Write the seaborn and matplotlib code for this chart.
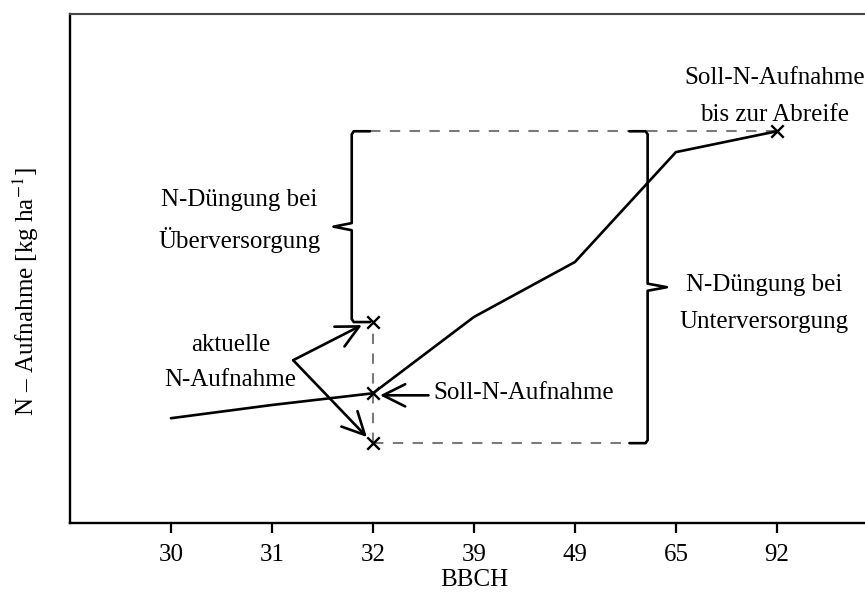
import numpy as np
import pandas as pd
import seaborn as sns
import matplotlib.pyplot as plt

BBCH = ['30', '31', '32', '39', '49', '65', '92']
SOLL_N = [20.6, 23.2, 25.5, 40.5, 51.3, 72.9, 77.0]
AKTUELL_HOCH = 39.5
AKTUELL_NIEDRIG = 15.7
MESS_STADIUM = '32'

DASH_COLOR = '#7a7a7a'
FS = 18


def draw_brace(ax, x, y_top, y_bottom, hook, cusp):
    # curly bracket made of straight pieces: hooks at both ends, cusp in the middle
    mid = (y_top + y_bottom) / 2
    s = np.sign(hook) * 0.02
    xs = [x + hook, x + s, x, x, x + cusp, x, x, x + s, x + hook]
    ys = [y_top, y_top, y_top - 0.6, mid + 0.7, mid, mid - 0.7, y_bottom + 0.6, y_bottom, y_bottom]
    ax.plot(xs, ys, color='black', lw=1.9, solid_joinstyle='round')


def draw_chart():
    df = pd.DataFrame({'pos': np.arange(len(BBCH)), 'bbch': BBCH, 'soll': SOLL_N})
    i32 = BBCH.index(MESS_STADIUM)
    y32 = SOLL_N[i32]
    y_end = SOLL_N[-1]
    i_end = len(BBCH) - 1

    sns.set_style('white')
    plt.rcParams['font.family'] = ['Liberation Serif', 'DejaVu Serif']
    plt.rcParams['mathtext.fontset'] = 'stix'
    plt.rcParams['text.color'] = 'black'
    plt.rcParams['axes.labelcolor'] = 'black'

    fig = plt.figure(figsize=(8.65, 5.93), dpi=100)
    ax = fig.add_axes([0.0809, 0.118, 0.934, 0.858])

    # guide lines
    dash = dict(color=DASH_COLOR, lw=1.5, dashes=(5, 4.5))
    ax.plot([i32, i32], [AKTUELL_NIEDRIG, AKTUELL_HOCH], **dash)
    ax.plot([i32 - 0.03, i_end], [y_end, y_end], **dash)
    ax.plot([i32, 4.55], [AKTUELL_NIEDRIG, AKTUELL_NIEDRIG], **dash)

    sns.lineplot(data=df, x='pos', y='soll', color='black', lw=1.9, ax=ax)

    marks = pd.DataFrame({'pos': [i32, i32, i32, i_end],
                          'y': [AKTUELL_HOCH, y32, AKTUELL_NIEDRIG, y_end]})
    sns.scatterplot(data=marks, x='pos', y='y', marker='x', color='black',
                    s=80, linewidth=1.7, ax=ax, zorder=5)

    draw_brace(ax, i32 - 0.21, y_end, AKTUELL_HOCH, hook=0.18, cusp=-0.18)
    draw_brace(ax, 4.72, y_end, AKTUELL_NIEDRIG, hook=-0.18, cusp=0.19)

    # arrows
    arrow = dict(arrowstyle='->', lw=1.9, color='black', mutation_scale=40,
                 shrinkA=0, shrinkB=0)
    start = (1.21, 32.0)
    ax.annotate('', xy=(i32 - 0.11, AKTUELL_HOCH - 0.6), xytext=start, arrowprops=arrow)
    ax.annotate('', xy=(i32 - 0.06, AKTUELL_NIEDRIG + 1.2), xytext=start, arrowprops=arrow)
    ax.annotate('', xy=(i32 + 0.07, y32 - 0.4), xytext=(2.55, y32 - 0.4), arrowprops=arrow)

    # labels
    txt = dict(fontsize=FS, ha='center', va='center')
    ax.text(0.68, 63.5, 'N-Düngung bei', **txt)
    ax.text(0.68, 55.6, 'Überversorgung', **txt)
    ax.text(5.87, 46.8, 'N-Düngung bei', **txt)
    ax.text(5.87, 39.5, 'Unterversorgung', **txt)
    ax.text(5.98, 87.4, 'Soll-N-Aufnahme', **txt)
    ax.text(5.98, 80.2, 'bis zur Abreife', **txt)
    ax.text(0.59, 35.0, 'aktuelle', **txt)
    ax.text(0.59, 28.1, 'N-Aufnahme', **txt)
    ax.text(2.6, y32, 'Soll-N-Aufnahme', fontsize=FS, ha='left', va='center')

    ax.set_xlim(-1, 7)
    ax.set_ylim(0, 100)
    ax.set_xticks(df['pos'])
    ax.set_xticklabels(BBCH, fontsize=FS)
    ax.set_yticks([])
    ax.tick_params(axis='x', direction='out', length=7, width=1.6, pad=8,
                   bottom=True, colors='black')
    ax.set_xlabel('BBCH', fontsize=FS, labelpad=2)
    ax.set_ylabel('N – Aufnahme [kg ha$^{-1}$]', fontsize=FS)
    ax.yaxis.set_label_coords(-0.036, 0.455)
    for side in ['left', 'bottom', 'right']:
        ax.spines[side].set_color('black')
        ax.spines[side].set_linewidth(1.7)
    ax.spines['top'].set_color('#444444')
    ax.spines['top'].set_linewidth(1.5)

    fig.savefig('out.png', dpi=100)
    return fig


draw_chart()
